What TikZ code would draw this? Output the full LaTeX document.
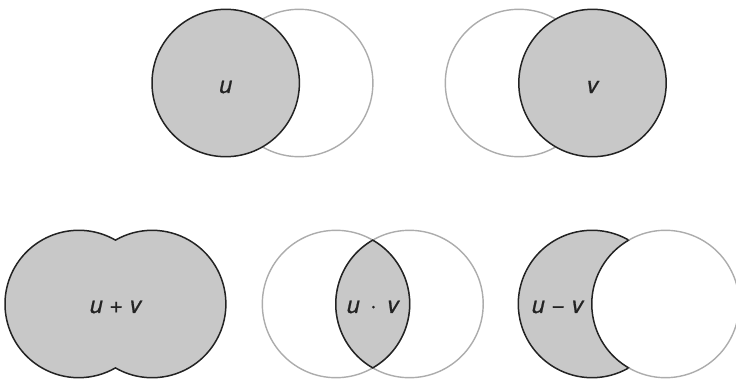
\documentclass[tikz,border=0pt]{standalone}
\usepackage{fontspec}
\setmainfont{TeX Gyre Heros}
\newfontfamily\lblfont[FakeBold=0.8]{TeX Gyre Heros}
\usetikzlibrary{calc}
\definecolor{shade}{RGB}{200,200,200}
\definecolor{edgedark}{RGB}{35,35,35}
\definecolor{edgelight}{RGB}{172,172,172}
\tikzset{
  darkline/.style={draw=edgedark,line width=1.5bp},
  lightline/.style={draw=edgelight,line width=1.4bp},
  shaded/.style={fill=shade},
  lbl/.style={font=\lblfont\fontsize{23.5}{28}\selectfont\itshape,text=edgedark,inner sep=0pt}
}
\begin{document}
\begin{tikzpicture}[x=1bp,y=1bp]
\def\R{73.7}
\def\A{60.1}
\useasboundingbox (0,0) rectangle (736,378);
\clip (0,0) rectangle (736,378);
% ---- top left: u
\coordinate (a1) at (225.7,295);
\coordinate (a2) at (299.2,295);
\draw[lightline] (a2) circle (\R);
\draw[darkline,shaded] (a1) circle (\R);
\node[lbl] (lu) at (225.7,291) {u};
% ---- top right: v
\coordinate (b1) at (519,295);
\coordinate (b2) at (592.5,295);
\draw[lightline] (b1) circle (\R);
\draw[darkline,shaded] (b2) circle (\R);
\node[lbl] (lv) at (592.5,291) {v};
% ---- bottom left: u+v
\coordinate (c1) at (78.7,74);
\coordinate (c2) at (152.2,74);
\draw[darkline,shaded] ($(c1)+(\A:\R)$) arc[start angle=\A,end angle=360-\A,radius=\R]
  arc[start angle=-180+\A,end angle=180-\A,radius=\R] -- cycle;
\node[lbl] (luv) at (115.5,71) {u + v};
% ---- bottom middle: u.v
\coordinate (d1) at (336,74);
\coordinate (d2) at (409.5,74);
\draw[lightline] (d1) circle (\R);
\draw[lightline] (d2) circle (\R);
\draw[darkline,shaded] ($(d1)+(\A:\R)$) arc[start angle=180-\A,end angle=180+\A,radius=\R]
  arc[start angle=-\A,end angle=\A,radius=\R] -- cycle;
\node[lbl] (ldot) at (372.8,71) {u \,·\, v};
% ---- bottom right: u-v
\coordinate (e1) at (592,74);
\coordinate (e2) at (665.5,74);
\draw[darkline,shaded] ($(e1)+(\A:\R)$) arc[start angle=\A,end angle=360-\A,radius=\R]
  arc[start angle=180+\A,end angle=180-\A,radius=\R] -- cycle;
\draw[lightline] ($(e1)+(\A:\R)$) arc[start angle=180-\A,end angle=-180+\A,radius=\R];
\node[lbl] (lminus) at (557.5,71) {u − v};
\end{tikzpicture}
\end{document}
